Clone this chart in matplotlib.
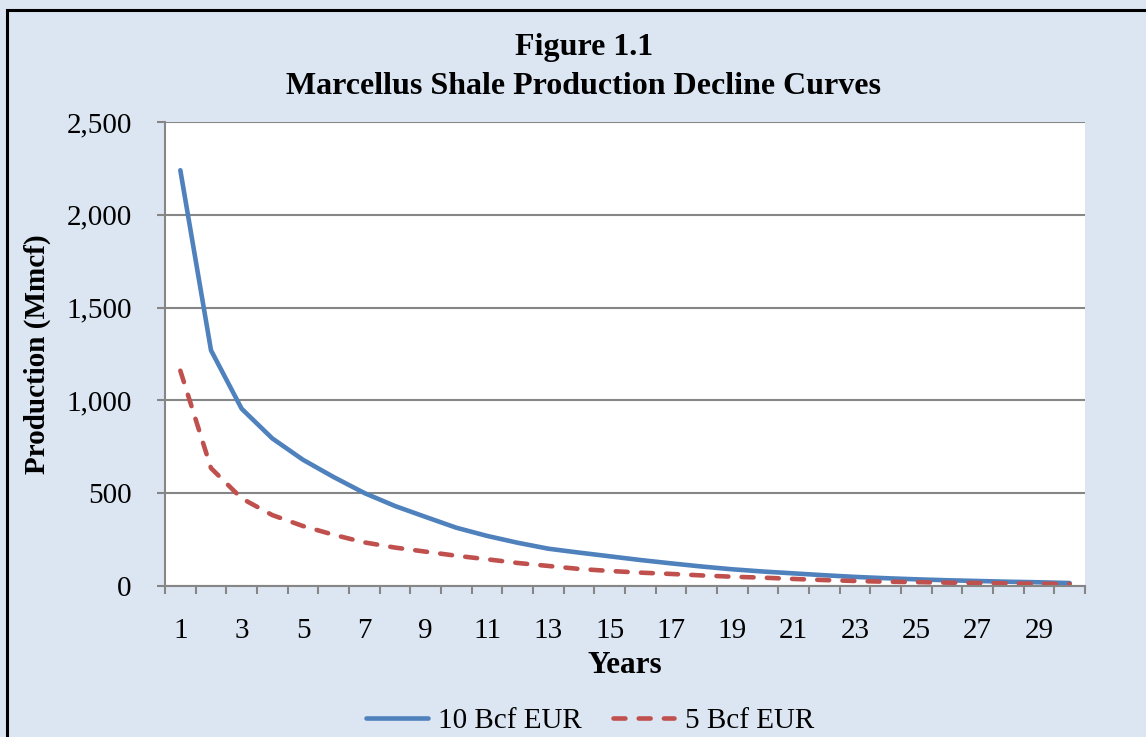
import matplotlib.pyplot as plt
from matplotlib.patches import Rectangle
from matplotlib.ticker import FuncFormatter

plt.rcParams['font.family'] = ['Liberation Serif', 'DejaVu Serif']

# data
years = list(range(1, 31))
eur_10 = [2240, 1270, 955, 795, 680, 587, 501, 431, 372, 314,
          270, 233, 201, 180, 160, 140, 122, 105, 90, 78,
          68, 58, 49, 42, 36, 31, 27, 23, 20, 16]
eur_5 = [1160, 635, 472, 382, 323, 276, 235, 207, 185, 163,
         144, 124, 108, 92, 81, 72, 65, 57, 50, 45,
         38, 32, 27, 23, 21, 18, 16, 14, 12, 11]
year_labels = [str(y) for y in years[::2]]

bg = '#DCE6F2'
grey = '#868686'

fig = plt.figure(figsize=(11.46, 7.37), dpi=100, facecolor=bg)
ax = fig.add_axes([165 / 1146, 1 - 586 / 737, 920 / 1146, 464 / 737])
ax.set_facecolor('white')

ax.plot(years, eur_10, color='#4F81BD', lw=3.3, solid_capstyle='round',
        solid_joinstyle='round', label='10 Bcf EUR')
ax.plot(years, eur_5, color='#C0504D', lw=3.3, linestyle=(0, (2.6, 2.9)),
        dash_capstyle='round', label='5 Bcf EUR')

ax.set_xlim(0.5, 30.5)
ax.set_ylim(0, 2500)
ax.set_yticks(range(0, 2501, 500))
ax.yaxis.set_major_formatter(FuncFormatter(lambda v, p: f'{int(v):,}'))
ax.grid(axis='y', color=grey, lw=1.5)
ax.set_axisbelow(True)

ax.set_xticks(years[::2])
ax.set_xticklabels(year_labels)
ax.set_xticks([y + 0.5 for y in range(0, 31)], minor=True)
ax.tick_params(axis='x', which='major', length=0, pad=23, labelsize=21)
ax.tick_params(axis='x', which='minor', length=6, width=1.5, color=grey)
ax.tick_params(axis='y', length=6, width=1.5, color=grey, pad=18, labelsize=21)

for s in ['top', 'right']:
    ax.spines[s].set_visible(False)
for s in ['left', 'bottom']:
    ax.spines[s].set_color(grey)
    ax.spines[s].set_linewidth(1.5)

ax.set_xlabel('Years', fontsize=22.5, fontweight='bold', labelpad=5)
ax.set_ylabel('Production (Mmcf)', fontsize=21, fontweight='bold', labelpad=11)

fig.text(584 / 1146, 1 - 48 / 737, 'Figure 1.1', ha='center', va='center',
         fontsize=23, fontweight='bold')
fig.text(584 / 1146, 1 - 87 / 737, 'Marcellus Shale Production Decline Curves',
         ha='center', va='center', fontsize=23, fontweight='bold')

fig.legend(loc='center', bbox_to_anchor=(590 / 1146, 1 - 721 / 737), ncol=2,
           frameon=False, fontsize=21, handlelength=2.12, handletextpad=0.35,
           columnspacing=1.05)

# outer border (top and left edges visible in the crop)
fig.patches.append(Rectangle((7 / 1146, -0.1), 1.2, 1.1 - 10 / 737,
                             transform=fig.transFigure, fill=False,
                             edgecolor='black', lw=2.2))

fig.savefig('out.png', dpi=100, facecolor=bg)
